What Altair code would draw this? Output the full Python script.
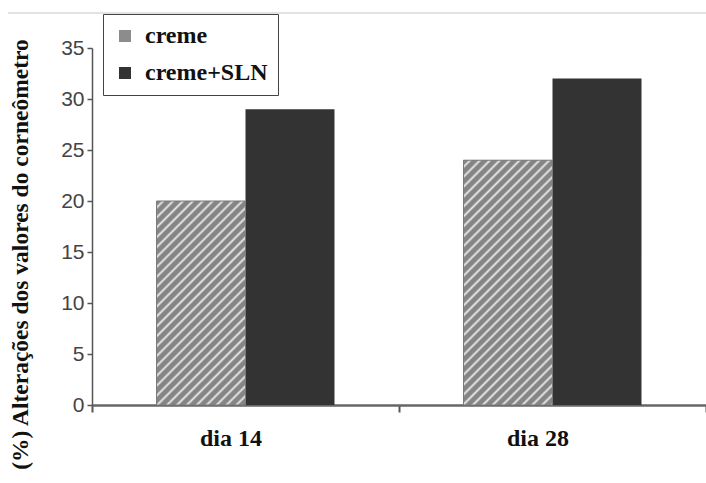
import math
import altair as alt
import pandas as pd

dias = ["dia 14", "dia 28"]
series = ["creme", "creme+SLN"]
creme = [20, 24]
creme_sln = [29, 32]
y_ticks = [0, 5, 10, 15, 20, 25, 30, 35]

rows = []
for i, d in enumerate(dias):
    rows.append({"dia": d, "serie": series[0], "valor": creme[i]})
    rows.append({"dia": d, "serie": series[1], "valor": creme_sln[i]})
df = pd.DataFrame(rows)

W, H = 614, 357
YMAX = 35
OFF_OUTER = 0.725
step = W / len(dias)
bar_w = step / (len(series) + 2 * OFF_OUTER)


def hatch(value, period=7.0, base="#858585", light="#ebebeb"):
    w = bar_w
    h = value / YMAX * H
    s = w * w + h * h
    gx = w * (w + h) / s
    gy = h * (w + h) / s
    n = (w + h) / math.sqrt(2) / period
    stops = []
    k = 0
    while k / n < 1:
        o = k / n
        for frac, col in [(0.0, base), (0.42, base), (0.68, light), (0.94, base)]:
            off = o + frac / n
            if off <= 1:
                stops.append({"offset": round(off, 5), "color": col})
        k += 1
    stops.append({"offset": 1, "color": base})
    return {"gradient": "linear", "x1": 0, "y1": 0, "x2": gx, "y2": gy, "stops": stops}


SERIF = "Liberation Serif"

X = alt.X(
    "dia:N",
    scale=alt.Scale(domain=dias, paddingInner=0, paddingOuter=0),
    axis=alt.Axis(
        title=None,
        labelAngle=0,
        labelFont=SERIF,
        labelFontWeight="bold",
        labelFontSize=24,
        labelColor="#111111",
        labelPadding=14,
        labelOffset=-15,
        domainColor="#666666",
        domainWidth=2.5,
        tickBand="extent",
        tickSize=7,
        tickWidth=2,
        tickColor="#555555",
    ),
)
XO = alt.XOffset(
    "serie:N",
    scale=alt.Scale(domain=series, paddingInner=0, paddingOuter=OFF_OUTER),
)
Y = alt.Y(
    "valor:Q",
    scale=alt.Scale(domain=[0, YMAX], nice=False),
    axis=alt.Axis(
        values=y_ticks,
        grid=False,
        title="(%) Alterações dos valores do corneômetro",
        titleFont=SERIF,
        titleFontWeight="bold",
        titleFontSize=23.5,
        titleColor="#111111",
        titleAngle=270,
        titleX=-72,
        titleY=206,
        titleAlign="center",
        titleBaseline="middle",
        labelFont="Liberation Sans",
        labelFontSize=21,
        labelColor="#444444",
        labelPadding=3,
        tickSize=5,
        tickColor="#555555",
        tickWidth=1.5,
        domainColor="#555555",
        domainWidth=1.5,
    ),
)

base = alt.Chart(df).encode(x=X, xOffset=XO, y=Y)

bars = base.mark_bar().encode(
    color=alt.Color(
        "serie:N",
        scale=alt.Scale(domain=series, range=["#8c8c8c", "#333333"]),
        legend=alt.Legend(
            title=None,
            orient="none",
            legendX=11,
            legendY=-34,
            direction="vertical",
            symbolType="square",
            symbolSize=144,
            symbolStrokeWidth=0,
            labelFont=SERIF,
            labelFontWeight="bold",
            labelFontSize=24,
            labelColor="#111111",
            labelOffset=8,
            strokeColor="#444444",
            fillColor="white",
            padding=10,
            rowPadding=13,
        ),
    )
)

layers = [bars]
for i, d in enumerate(dias):
    layers.append(
        base.transform_filter(f"datum.dia == '{d}' && datum.serie == '{series[0]}'")
        .mark_bar(fill=hatch(creme[i]), stroke="#7a7a7a", strokeWidth=1)
    )

top_line = alt.Chart(pd.DataFrame({"a": [0]})).mark_rule(color="#e3e3e3", strokeWidth=2).encode(
    x=alt.value(-84), x2=alt.value(W), y=alt.value(-35)
)

chart = (
    alt.layer(top_line, *layers)
    .properties(
        width=W,
        height=H,
        padding={"left": 92, "top": 48, "right": 0, "bottom": 78},
        autosize=alt.AutoSizeParams(type="none"),
        background="white",
    )
    .configure_view(stroke=None)
    .configure_axis(titleFont=SERIF)
)

chart.save("out.html", embed_options={"renderer": "svg", "actions": False})
